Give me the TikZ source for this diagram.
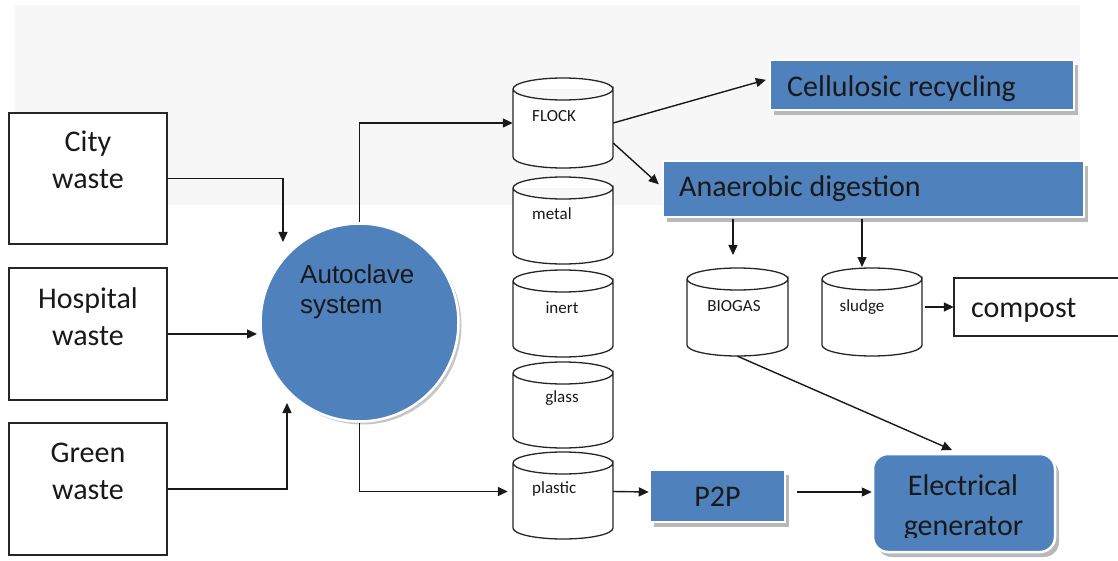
\documentclass[tikz,border=0pt]{standalone}
\usepackage{fontspec}
\setmainfont{Carlito}
\newfontfamily\arialf{Liberation Sans}
\usetikzlibrary{arrows.meta,shadows,calc}
\definecolor{boxblue}{HTML}{4F81BD}
\definecolor{bggray}{HTML}{F7F7F7}
\tikzset{
  wbox/.style={draw=black!85, line width=1.4pt, fill=white, rectangle, inner sep=0pt},
  bbox/.style={fill=boxblue, draw=white, line width=2.5pt, rectangle, inner sep=0pt,
    drop shadow={shadow xshift=4pt, shadow yshift=-5pt, fill=gray!55, opacity=1}},
  cylbody/.style={draw=none, fill=none, rectangle, inner sep=0pt},
  cylline/.style={draw=black!85, line width=1.3pt, fill=white},
  bigtxt/.style={font=\fontsize{30}{36}\selectfont, inner sep=0pt, text=black!90},
  arialtxt/.style={font=\arialf\fontsize{26}{30}\selectfont, inner sep=0pt, text=black!90},
  smalltxt/.style={font=\fontsize{17}{20}\selectfont, inner sep=0pt, text=black!90},
  arr/.style={draw=black!90, line width=1.4pt, -{Triangle[length=10pt,width=9pt]}},
}
% #1 name, #2 left x, #3 right x, #4 top y, #5 bottom y, #6 ellipse y radius
\newcommand{\drumshape}[6]{%
  \node[cylbody, minimum width={#3-#2}, minimum height={#5-#4}] (#1) at ({(#2+#3)/2},{(#4+#5)/2}) {};
  \draw[cylline] (#2,#4+#6) -- (#2,#5-#6)
    arc[start angle=180, end angle=0, x radius={(#3-#2)/2}, y radius=#6]
    -- (#3,#4+#6)
    arc[start angle=0, end angle=360, x radius={(#3-#2)/2}, y radius=#6];
}
\begin{document}
\begin{tikzpicture}[x=1pt, y=-1pt]
\useasboundingbox (0,0) rectangle (1118,561);
\fill[bggray] (15,5) rectangle (1080,205);

% input boxes
\node[wbox, minimum width=158, minimum height=131] (city) at (88,178.5) {};
\node[wbox, minimum width=158, minimum height=132] (hosp) at (88,334) {};
\node[wbox, minimum width=158, minimum height=132] (green) at (88,489) {};
\node[bigtxt, anchor=base] (city1) at (88,152) {City};
\node[bigtxt, anchor=base] (city2) at (88,189) {waste};
\node[bigtxt, anchor=base] (hosp1) at (88,308) {Hospital};
\node[bigtxt, anchor=base] (hosp2) at (88,345) {waste};
\node[bigtxt, anchor=base] (green1) at (88,462) {Green};
\node[bigtxt, anchor=base] (green2) at (88,499) {waste};

% autoclave
\node[circle, fill=boxblue, draw=white, line width=2.5pt, minimum size=198, inner sep=0pt,
  drop shadow={shadow xshift=3pt, shadow yshift=-3pt, fill=gray!45, opacity=1}] (auto) at (359.5,322.5) {};
\node[arialtxt, anchor=base west] (auto1) at (300,283) {Autoclave};
\node[arialtxt, anchor=base west] (auto2) at (300,313) {system};

% cylinders
\drumshape{flock}{513}{613}{78}{168}{11}
\drumshape{metal}{513}{613}{177}{264}{11}
\drumshape{inert}{513}{613}{270}{357}{11}
\drumshape{glass}{513}{613}{362}{448}{11}
\drumshape{plastic}{513}{613}{452}{539}{11}
\drumshape{biogas}{687}{788}{268}{356}{11}
\drumshape{sludge}{822}{922}{268}{356}{11}
\node[smalltxt, anchor=base west] (flockt) at (532,122) {FLOCK};
\node[smalltxt, anchor=base west] (metalt) at (532,220) {metal};
\node[smalltxt, anchor=base] (inertt) at (562,313) {inert};
\node[smalltxt, anchor=base] (glasst) at (562,402) {glass};
\node[smalltxt, anchor=base west] (plastict) at (532,493) {plastic};
\node[smalltxt, anchor=base] (biogast) at (734,311) {BIOGAS};
\node[smalltxt, anchor=base] (sludget) at (862,311) {sludge};

% blue boxes
\node[bbox, minimum width=304, minimum height=50] (cell) at (922,85) {};
\node[bigtxt, anchor=base west] (cellt) at (787,97) {Cellulosic recycling};
\node[bbox, minimum width=421, minimum height=56] (anaer) at (873.5,189) {};
\node[bigtxt, anchor=base west] (anaert) at (679,197) {Anaerobic digestion};
\node[bbox, minimum width=135, minimum height=52] (p2p) at (717.5,496) {};
\node[bigtxt, anchor=base] (p2pt) at (717.5,506) {P2P};
\node[bbox, rounded corners=15pt, minimum width=182, minimum height=98] (gen) at (964,503) {};
\node[bigtxt, anchor=base] (gent1) at (963,495) {Electrical};
\begin{scope}
  \clip (873,440) rectangle (1055,537.5);
  \node[bigtxt, anchor=base] (gent2) at (963.5,535) {generator};
\end{scope}

% compost
\draw[wbox] (954,278) rectangle (1122,336);
\node[cylbody, minimum width=168, minimum height=58] (compost) at (1038,307) {};
\node[bigtxt, anchor=base west] (compostt) at (971,317) {compost};

% connectors
\coordinate (cityin) at (283,242);
\coordinate (hospin) at (257,334);
\coordinate (greenin) at (287,403);
\coordinate (bgin) at (733,255);
\coordinate (sgin) at (862,267);
\coordinate (genin) at (952,450);
\coordinate (p2pout) at (797,492);
\draw[arr] (city.east) -| (cityin);
\draw[arr] (hosp.east) -- (hospin);
\draw[arr] (green.east) -| (greenin);
\draw[arr] (auto.north) |- (flock.west);
\draw[arr, shorten >=5pt] (auto.south) |- ([yshift=4pt]plastic.west);
\draw[arr, shorten >=3pt] (flock.east) -- ([yshift=6pt]cell.west);
\draw[arr, shorten >=4pt] ([yshift=-20pt]flock.east) -- ([yshift=2pt]anaer.west);
\draw[arr, shorten <=1pt] (anaer.south -| bgin) -- (bgin);
\draw[arr, shorten <=1pt] (anaer.south -| sgin) -- (sgin);
\draw[arr, shorten <=3pt] (sludge.east |- compost.west) -- (compost.west);
\draw[arr] (biogas.south) -- (genin);
\draw[arr] ([yshift=4pt]plastic.east) -- ([yshift=4pt]p2p.west);
\draw[arr] (p2pout) -- (p2pout -| gen.west);
\end{tikzpicture}
\end{document}
